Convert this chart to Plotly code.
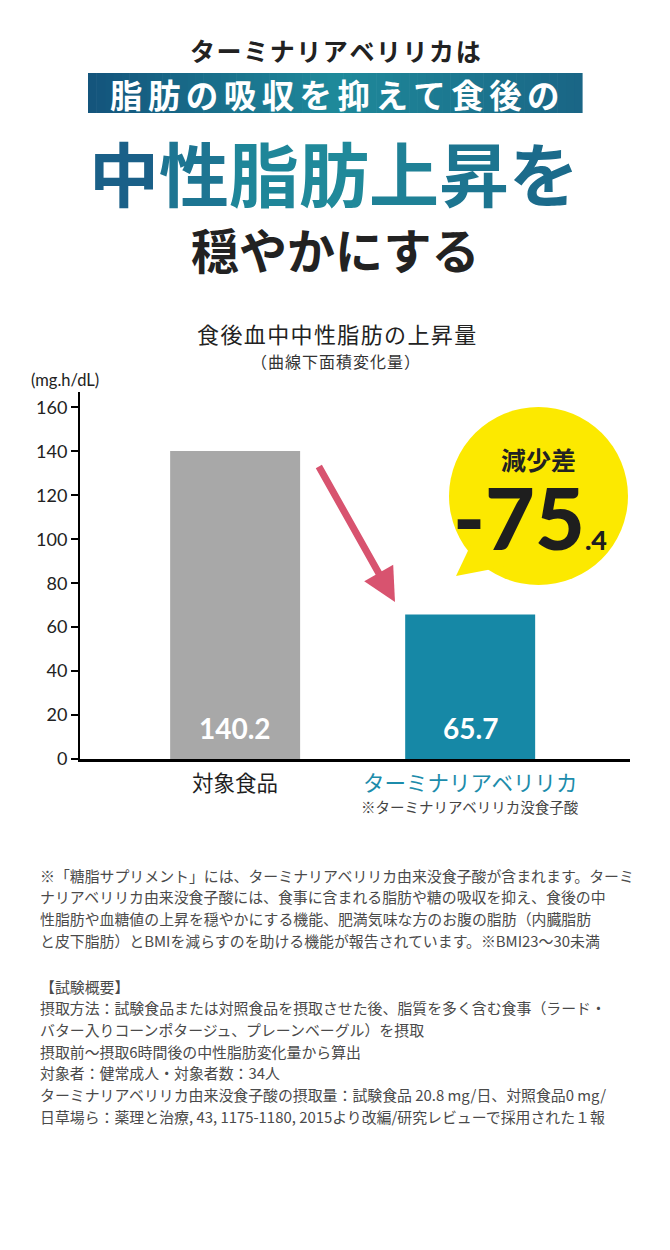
# -*- coding: utf-8 -*-
import numpy as np
import plotly.graph_objects as go

# データ
categories = ["対象食品", "ターミナリアベリリカ"]
values = [140.2, 65.7]
bar_colors = ["#a8a8a8", "#1688a6"]
label_colors = ["#1f1f1f", "#1c8cab"]
label_notes = ["", "※ターミナリアベリリカ没食子酸"]
yticks = [0, 20, 40, 60, 80, 100, 120, 140, 160]
reduction = -75.4

header_top = "ターミナリアベリリカは"
header_band = "脂肪の吸収を抑えて食後の"
header_big = "中性脂肪上昇を"
header_big_colors = ["#1a6088", "#1d7592", "#1f8699", "#20899a", "#1f8196", "#1d7590", "#1b6b8b"]
header_end = "穏やかにする"
chart_title = "食後血中中性脂肪の上昇量"
chart_subtitle = "（曲線下面積変化量）"
unit_label = "(mg.h/dL)"

note_lines = [
    "※「糖脂サプリメント」には、ターミナリアベリリカ由来没食子酸が含まれます。ターミ",
    "ナリアベリリカ由来没食子酸には、食事に含まれる脂肪や糖の吸収を抑え、食後の中",
    "性脂肪や血糖値の上昇を穏やかにする機能、肥満気味な方のお腹の脂肪（内臓脂肪",
    "と皮下脂肪）とBMIを減らすのを助ける機能が報告されています。※BMI23〜30未満",
]
study_lines = [
    "【試験概要】",
    "摂取方法：試験食品または対照食品を摂取させた後、脂質を多く含む食事（ラード・",
    "バター入りコーンポタージュ、プレーンベーグル）を摂取",
    "摂取前〜摂取6時間後の中性脂肪変化量から算出",
    "対象者：健常成人・対象者数：34人",
    "ターミナリアベリリカ由来没食子酸の摂取量：試験食品 20.8 mg/日、対照食品0 mg/",
    "日草場ら：薬理と治療, 43, 1175-1180, 2015より改編/研究レビューで採用された１報",
]

JP = "Noto Sans CJK JP"
# ページの余白(8px)を差し引いたサイズ
W, H = 654, 1234
L, R, T, B = 72, 32, 384, 483


def px(x):
    # ページ上のピクセル→paper座標(x)
    return (x - 8 - L) / (W - L - R)


def py(y):
    # ページ上のピクセル→paper座標(y)
    return (H - B - (y - 8)) / (H - T - B)


def spaced(s, sp="\u2009"):
    return sp.join(list(s))


def ptext(x, y, text, font, **kw):
    d = dict(x=px(x), y=py(y), xref="paper", yref="paper", text=text, showarrow=False,
             xanchor="center", yanchor="middle", font=font)
    d.update(kw)
    return d


fig = go.Figure()

fig.add_trace(
    go.Bar(
        x=categories,
        y=values,
        marker=dict(color=bar_colors, line=dict(width=0)),
        width=0.553,
        hoverinfo="skip",
    )
)

annotations = []
shapes = []

# バー内の数値
for c, v in zip(categories, values):
    annotations.append(dict(
        x=c, y=14, xref="x", yref="y", text=f"{v}", showarrow=False,
        xanchor="center", yanchor="middle",
        font=dict(family="Lato", size=28, color="white", weight="bold"),
    ))

# カテゴリラベル
for c, col, note in zip(categories, label_colors, label_notes):
    annotations.append(dict(
        x=c, y=py(781), xref="x", yref="paper", text=c, showarrow=False,
        xanchor="center", yanchor="middle",
        font=dict(family=JP, size=21.5, color=col),
    ))
    if note:
        annotations.append(dict(
            x=c, y=py(806), xref="x", yref="paper", text=note, showarrow=False,
            xanchor="center", yanchor="middle",
            font=dict(family=JP, size=14.5, color="#444444"),
        ))

# 見出し
annotations += [
    ptext(335, 50, spaced(header_top, "\u200a"),
          dict(family=JP, size=25, color="#222222", weight="bold")),
    ptext(335, 93, spaced(header_band, "\u2006"),
          dict(family=JP, size=32.5, color="white", weight="bold")),
    ptext(334, 171,
          "".join(f"<span style='color:{c}'>{ch}</span>" for ch, c in zip(header_big, header_big_colors)),
          dict(family=JP, size=70, weight="bold")),
    ptext(335, 248, header_end, dict(family=JP, size=48, color="#222222", weight="bold")),
    ptext(336, 333, spaced(chart_title, "\u200a"), dict(family=JP, size=22, color="#222222")),
    ptext(335, 361, spaced(chart_subtitle, "\u200a"), dict(family=JP, size=16, color="#333333")),
    ptext(29, 380, unit_label, dict(family="Lato", size=16.5, color="#222222"), xanchor="left"),
]

# 注記
note_font = dict(family=JP, size=14.9, color="#4a4a4a")
for i, line in enumerate(note_lines):
    annotations.append(ptext(38, 875 + i * 21.8, line, note_font, xanchor="left"))
for i, line in enumerate(study_lines):
    annotations.append(ptext(38, 986 + i * 21.7, line, note_font, xanchor="left"))

# 矢印
annotations.append(dict(
    x=px(395), y=py(602), xref="paper", yref="paper", text="",
    showarrow=True, ax=-77, ay=-137, arrowhead=2, arrowsize=0.95,
    arrowwidth=7, arrowcolor="#d8536f", standoff=0,
))

# 吹き出し
yellow = "#fce900"
shapes.append(dict(type="circle", xref="paper", yref="paper",
                   x0=px(449), x1=px(628), y0=py(585), y1=py(407),
                   fillcolor=yellow, line=dict(width=0)))
shapes.append(dict(type="path", xref="paper", yref="paper",
                   path=f"M{px(456)},{py(576)} L{px(474)},{py(538)} L{px(508)},{py(566)} Z",
                   fillcolor=yellow, line=dict(width=0)))
whole, frac = f"{reduction:.1f}".split(".")
annotations += [
    ptext(538, 459, "減少差", dict(family=JP, size=25, color="#222222", weight="bold")),
    ptext(530, 516, f"{whole}<span style='font-size:27px'>.{frac}</span>",
          dict(family="Lato", size=86, color="#1e1e1e", weight=900)),
]

# 帯のグラデーション
stops = np.array([[0x14, 0x55, 0x7c], [0x1f, 0x8a, 0x9b], [0x1a, 0x66, 0x86]], dtype=float)
n = 60
for i in range(n):
    t = i / (n - 1)
    if t < 0.5:
        c = stops[0] + (stops[1] - stops[0]) * t / 0.5
    else:
        c = stops[1] + (stops[2] - stops[1]) * (t - 0.5) / 0.5
    x0 = 88 + (582 - 88) * i / n
    x1 = 88 + (582 - 88) * (i + 1) / n + 0.6
    shapes.insert(0, dict(type="rect", xref="paper", yref="paper", layer="below",
                          x0=px(x0), x1=px(x1), y0=py(113), y1=py(73),
                          fillcolor="rgb(%d,%d,%d)" % tuple(c), line=dict(width=0)))

fig.update_xaxes(
    type="category",
    range=[-0.66, 1.68],
    showticklabels=False,
    showgrid=False,
    zeroline=False,
    showline=True,
    linewidth=3,
    linecolor="black",
    ticks="",
)

fig.update_yaxes(
    range=[0, 167],
    tickvals=yticks,
    ticks="outside",
    ticklen=7,
    tickwidth=1.5,
    tickcolor="black",
    showline=True,
    linewidth=2,
    linecolor="black",
    showgrid=False,
    zeroline=False,
    tickfont=dict(family="Lato", size=18, color="#222222"),
)

fig.update_layout(
    width=W,
    height=H,
    margin=dict(l=L, r=R, t=T, b=B),
    paper_bgcolor="white",
    plot_bgcolor="white",
    showlegend=False,
    annotations=annotations,
    shapes=shapes,
    font=dict(family=JP),
)

fig.write_html("out.html")
